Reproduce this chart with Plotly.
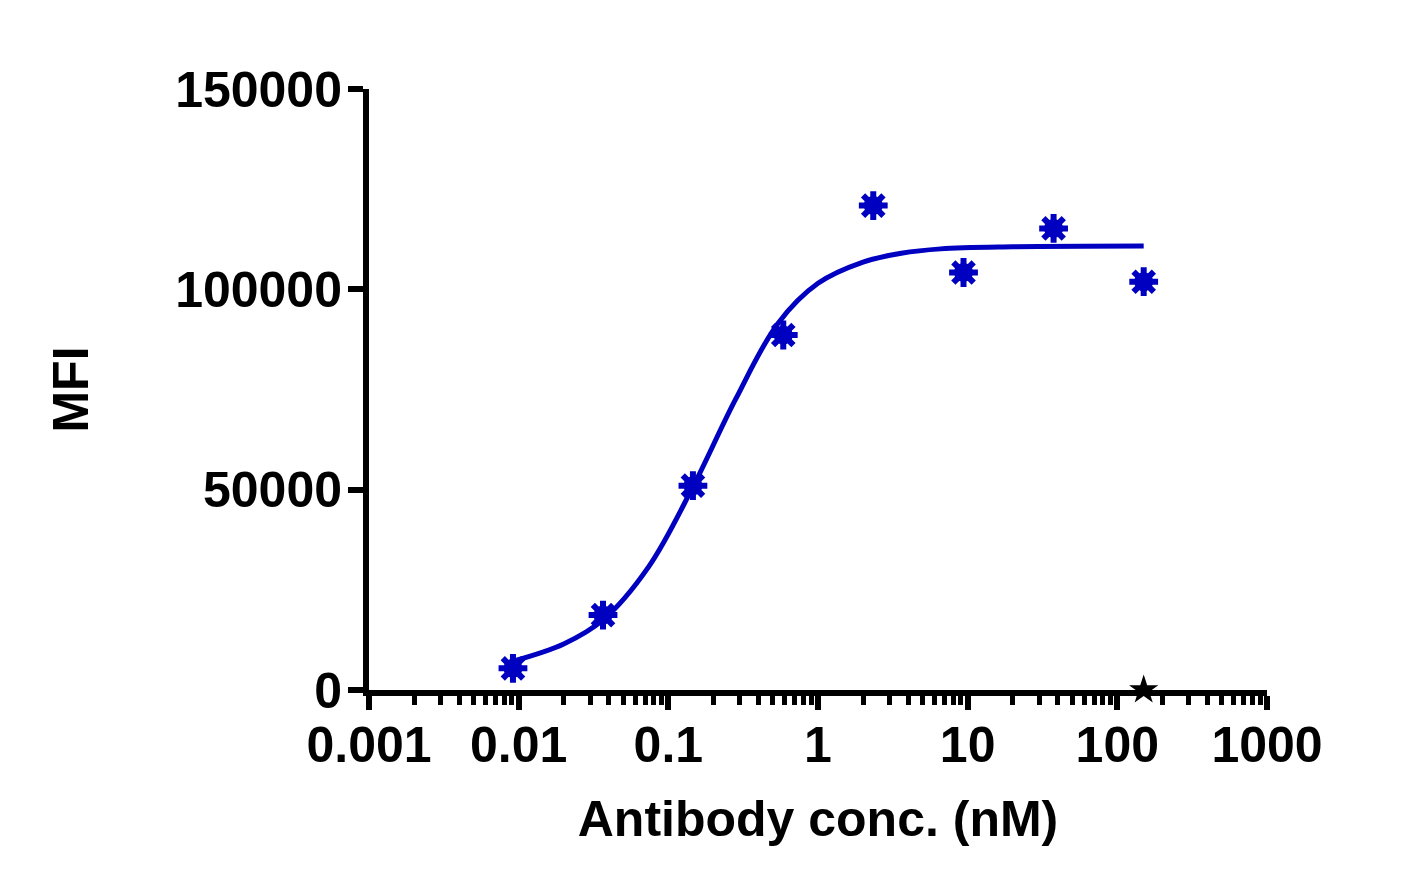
import plotly.graph_objects as go

# Antibody concentration (nM), 4-fold dilutions
conc = [0.00916, 0.0366, 0.146, 0.586, 2.34, 9.38, 37.5, 150]
mfi = [5400, 18700, 51000, 88600, 120900, 104200, 115200, 101900]

# Fitted curve
fit_conc = [0.00916, 0.02, 0.0366, 0.074, 0.146, 0.28, 0.54, 1.0, 2.0, 3.6, 6.6, 20, 150]
fit_mfi = [7200, 11500, 17500, 30800, 50700, 72400, 91500, 101500, 106800, 109000, 110100, 110600, 110800]

# Control point
ctrl_conc = [150]
ctrl_mfi = [0]

# Tick labels
x_tickvals = [0.001, 0.01, 0.1, 1, 10, 100, 1000]
x_ticktext = ['0.001', '0.01', '0.1', '1', '10', '100', '1000']
y_tickvals = [0, 50000, 100000, 150000]
y_ticktext = ['0', '50000', '100000', '150000']

blue = '#0000C0'
font = dict(family='Liberation Sans, Arial, sans-serif', size=50, color='black', weight='bold')

fig = go.Figure()

# Fitted curve
fig.add_trace(go.Scatter(
    x=fit_conc, y=fit_mfi,
    mode='lines',
    line=dict(color=blue, width=5, shape='spline', smoothing=1),
    hoverinfo='skip'
))

# Data points: filled core + spokes
fig.add_trace(go.Scatter(
    x=conc, y=mfi,
    mode='markers',
    marker=dict(symbol='circle', size=19, color=blue, line=dict(width=0))
))
fig.add_trace(go.Scatter(
    x=conc, y=mfi,
    mode='markers',
    marker=dict(symbol='asterisk-open', size=24, color=blue, line=dict(color=blue, width=6))
))

# Control
fig.add_trace(go.Scatter(
    x=ctrl_conc, y=ctrl_mfi,
    mode='markers',
    marker=dict(symbol='star', size=22, color='black', line=dict(width=0)),
    cliponaxis=False
))

fig.update_layout(
    width=1421, height=892,
    margin=dict(l=361, r=162, t=81, b=210),
    plot_bgcolor='white',
    paper_bgcolor='white',
    showlegend=False,
    font=font
)

fig.update_xaxes(
    type='log',
    range=[-3, 3],
    tickmode='array',
    tickvals=x_tickvals,
    ticktext=x_ticktext,
    ticks='outside', ticklen=14, tickwidth=6, tickcolor='black',
    ticklabelstandoff=-8,
    showline=True, linewidth=6, linecolor='black',
    showgrid=False, zeroline=False,
    tickfont=font,
    minor=dict(dtick='D1', ticks='outside', ticklen=9, tickwidth=5, tickcolor='black', showgrid=False),
    title=dict(text='Antibody conc. (nM)', font=font, standoff=31)
)

fig.update_yaxes(
    range=[0, 150000],
    tickmode='array',
    tickvals=y_tickvals,
    ticktext=y_ticktext,
    ticks='outside', ticklen=15, tickwidth=6, tickcolor='black',
    ticklabelstandoff=-4,
    showline=True, linewidth=6, linecolor='black',
    showgrid=False, zeroline=False,
    tickfont=font,
    title=dict(text='MFI', font=font, standoff=73)
)

fig.write_html('out.html')
